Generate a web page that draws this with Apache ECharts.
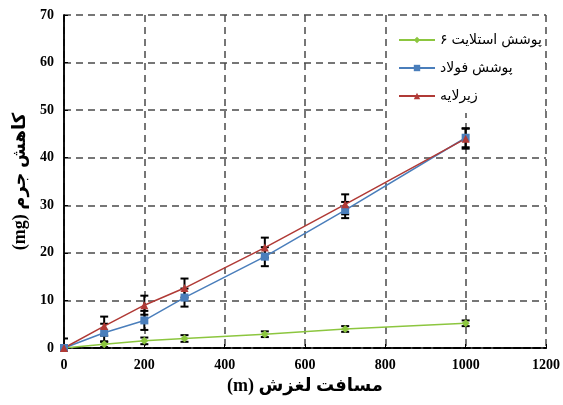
<!DOCTYPE html>
<html><head><meta charset="utf-8">
<script src="https://cdn.jsdelivr.net/npm/echarts@6/dist/echarts.min.js"></script>
<style>html,body{margin:0;padding:0;background:#fff}#c{width:563px;height:405px}</style>
</head><body><div id="c"></div>
<script>
var distances = [0, 100, 200, 300, 500, 700, 1000];
var seriesNames = ['پوشش استلایت ۶', 'پوشش فولاد', 'زیرلایه'];
var stelliteVals = [0, 0.8, 1.5, 2.0, 2.9, 4.0, 5.2];
var stelliteErr  = [0.3, 0.6, 0.7, 0.7, 0.6, 0.6, 0.6];
var steelVals    = [0, 3.2, 5.8, 10.6, 19.2, 29.0, 44.2];
var steelErr     = [0.4, 1.9, 2.0, 1.9, 2.0, 1.7, 2.0];
var substrVals   = [0, 4.6, 9.0, 12.6, 21.1, 30.2, 44.0];
var substrErr    = [2.0, 2.0, 2.0, 2.0, 2.1, 2.1, 2.1];
var xTicks = [0, 200, 400, 600, 800, 1000, 1200];
var yTicks = [0, 10, 20, 30, 40, 50, 60, 70];
var xName = '(m) مسافت لغزش';
var yName = '(mg) کاهش جرم';

function pairs(v){ return distances.map(function(d,i){ return [d, v[i]]; }); }
function errData(v,e){ return distances.map(function(d,i){ return [d, v[i], e[i]]; }); }

function errRender(params, api){
  var x = api.value(0), y = api.value(1), e = api.value(2);
  var top = api.coord([x, y + e]), bot = api.coord([x, y - e]);
  var hw = 4;
  var st = {stroke:'#000', lineWidth:2};
  return {type:'group', children:[
    {type:'line', shape:{x1:top[0], y1:top[1], x2:bot[0], y2:bot[1]}, style:st},
    {type:'line', shape:{x1:top[0]-hw, y1:top[1], x2:top[0]+hw, y2:top[1]}, style:st},
    {type:'line', shape:{x1:bot[0]-hw, y1:bot[1], x2:bot[0]+hw, y2:bot[1]}, style:st}
  ]};
}

var colors = ['#8CC63F', '#4A7EBB', '#B03A36'];
var markers = ['diamond', 'rect', 'triangle'];
var vals = [stelliteVals, steelVals, substrVals];
var errs = [stelliteErr, steelErr, substrErr];

var series = [];
for (var k = 0; k < 3; k++) {
  series.push({
    type:'custom', renderItem: errRender, data: errData(vals[k], errs[k]),
    encode:{x:0, y:1}, z:3, silent:true, clip:true
  });
}
for (var k = 0; k < 3; k++) {
  series.push({
    name: seriesNames[k], type:'line', data: pairs(vals[k]),
    symbol: markers[k], symbolSize: 8,
    lineStyle:{color: colors[k], width:1.5},
    itemStyle:{color: colors[k]}, z:4
  });
}

var tickFont = {fontFamily:'Liberation Serif', fontWeight:'bold', fontSize:14, color:'#000'};
var dashed = {type:[7,5], color:'#4a4a4a', width:1.5};

var option = {
  animation:false,
  backgroundColor:'#fff',
  grid:{left:64, right:17, top:15, bottom:57},
  graphic:[{type:'rect', z:10, shape:{x:388, y:16, width:157, height:97}, style:{fill:'#fff'}}],
  legend:{
    orient:'vertical', left:393, top:28, itemGap:14, itemWidth:36, itemHeight:8,
    data: seriesNames, z:20,
    textStyle:{fontFamily:'Liberation Sans, DejaVu Sans', fontSize:14, color:'#000'}
  },
  xAxis:[{
    type:'value', min:0, max:1200, interval:200,
    name: xName, nameLocation:'middle', nameGap:29,
    nameTextStyle:{fontFamily:'Liberation Serif, DejaVu Sans', fontWeight:'bold', fontSize:18, color:'#000'},
    axisLine:{lineStyle:{color:'#000', width:2, type:[6,4]}},
    axisTick:{inside:true, length:4, lineStyle:{color:'#000'}},
    axisLabel:Object.assign({margin:10, formatter:function(v){ return xTicks.indexOf(v) >= 0 ? String(v) : ''; }}, tickFont),
    splitLine:{show:true, lineStyle:dashed}
  },{
    type:'value', min:0, max:1200, interval:200, position:'top',
    axisLine:{lineStyle:{color:'#000', width:1.5}}, axisTick:{show:false}, axisLabel:{show:false}, splitLine:{show:false}
  }],
  yAxis:[{
    type:'value', min:0, max:70, interval:10,
    name: yName, nameLocation:'middle', nameGap:30,
    nameTextStyle:{fontFamily:'Liberation Serif, DejaVu Sans', fontWeight:'bold', fontSize:18, color:'#000'},
    axisLine:{show:true, lineStyle:{color:'#000', width:1.5}},
    axisTick:{show:true, inside:true, length:4, lineStyle:{color:'#000'}},
    axisLabel:Object.assign({margin:10, formatter:function(v){ return yTicks.indexOf(v) >= 0 ? String(v) : ''; }}, tickFont),
    splitLine:{show:true, lineStyle:dashed}
  },{
    type:'value', min:0, max:70, interval:10, position:'right',
    axisLine:{show:true, lineStyle:{color:'#000', width:1.5}}, axisTick:{show:false}, axisLabel:{show:false}, splitLine:{show:false}
  }],
  series: series
};
echarts.init(document.getElementById('c')).setOption(option);
</script></body></html>
